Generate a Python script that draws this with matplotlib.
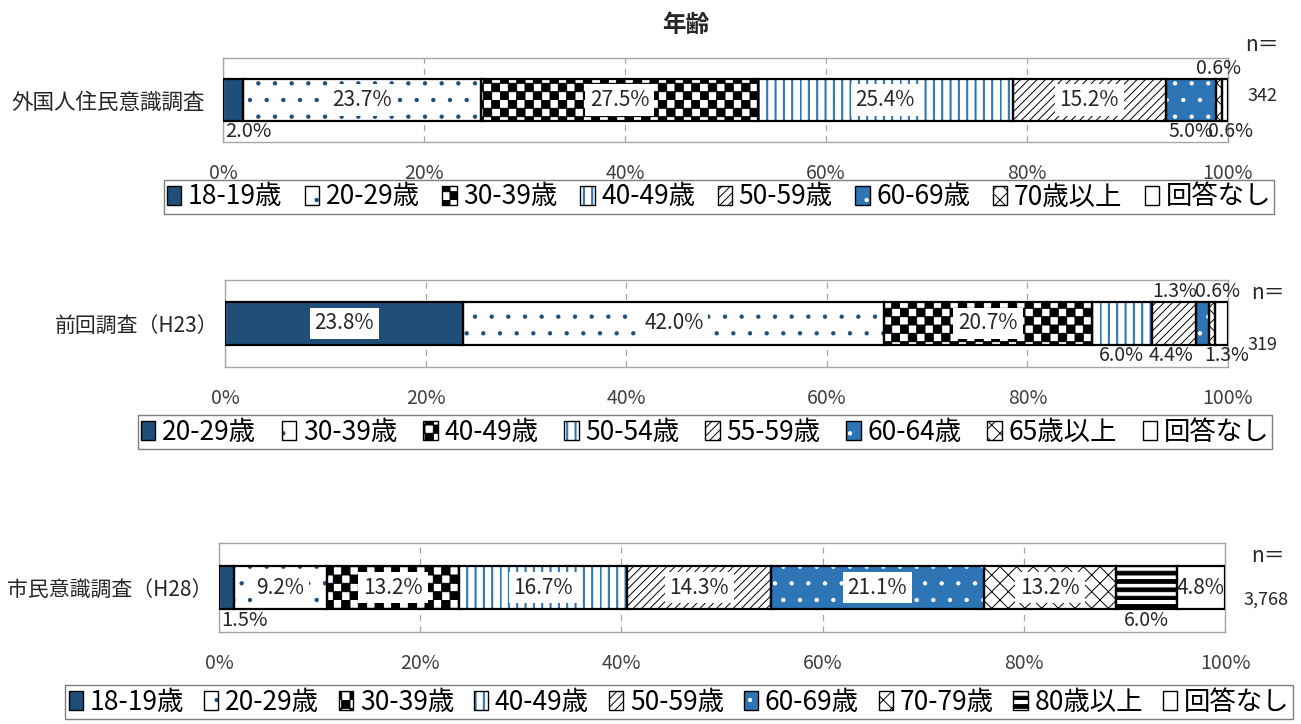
import warnings
import numpy as np
import matplotlib
matplotlib.use('Agg')
import matplotlib.pyplot as plt
import matplotlib.hatch as mhatch
from matplotlib.path import Path
from matplotlib.patches import Patch
from matplotlib.legend_handler import HandlerTuple

warnings.filterwarnings('ignore')
plt.rcParams['font.family'] = ['Noto Sans CJK JP', 'DejaVu Sans']
plt.rcParams['hatch.linewidth'] = 0.7

# ---- data ----
title = '年齢'
survey_names = ['外国人住民意識調査', '前回調査（H23）', '市民意識調査（H28）']
sample_sizes = ['342', '319', '3,768']

groups_foreign = ['18-19歳', '20-29歳', '30-39歳', '40-49歳', '50-59歳',
                  '60-69歳', '70歳以上', '回答なし']
values_foreign = [2.0, 23.7, 27.5, 25.4, 15.2, 5.0, 0.6, 0.6]

groups_h23 = ['20-29歳', '30-39歳', '40-49歳', '50-54歳', '55-59歳',
              '60-64歳', '65歳以上', '回答なし']
values_h23 = [23.8, 42.0, 20.7, 6.0, 4.4, 1.3, 0.6, 1.3]

groups_h28 = ['18-19歳', '20-29歳', '30-39歳', '40-49歳', '50-59歳',
              '60-69歳', '70-79歳', '80歳以上', '回答なし']
values_h28 = [1.5, 9.2, 13.2, 16.7, 14.3, 21.1, 13.2, 6.0, 4.8]

tick_values = [0, 20, 40, 60, 80, 100]


# extra hatch types: 'k' checkerboard, 'h' thick horizontal stripes,
# 'v' medium vertical lines
class BlockHatch(mhatch.HatchPatternBase):
    def __init__(self, hatch, density):
        self.rects = []
        nk = hatch.count('k') * density
        if nk:
            nk += nk % 2
            for i in range(nk):
                for j in range(nk):
                    if (i + j) % 2 == 0:
                        self.rects.append((i / nk, j / nk, 1 / nk, 1 / nk))
        nh = hatch.count('h') * density
        for j in range(nh):
            self.rects.append((0, j / nh, 1, 0.45 / nh))
        nv = hatch.count('v') * density
        for j in range(nv):
            self.rects.append((j / nv, 0, 0.13 / nv, 1))
        self.num_vertices = 5 * len(self.rects)

    def set_vertices_and_codes(self, vertices, codes):
        for n, (x, y, w, h) in enumerate(self.rects):
            vertices[5 * n:5 * n + 5] = [(x, y), (x + w, y), (x + w, y + h),
                                         (x, y + h), (x, y)]
            codes[5 * n:5 * n + 5] = [Path.MOVETO, Path.LINETO, Path.LINETO,
                                      Path.LINETO, Path.CLOSEPOLY]


mhatch._hatch_types.append(BlockHatch)

NAVY = '#1F4E79'
BLUE = '#2E75B6'
# (face, hatch colour, hatch)
styles = {
    'navy': (NAVY, NAVY, None),
    'dots': ('white', NAVY, '.'),
    'check': ('white', 'black', 'kk'),
    'vline': ('white', BLUE, 'vv'),
    'diag': ('white', 'black', '////'),
    'bdots': (BLUE, 'white', '.'),
    'cross': ('white', 'black', 'xx'),
    'stripe': ('white', 'black', 'hh'),
    'none': ('white', 'white', None),
}

panels = [
    dict(values=values_foreign, groups=groups_foreign,
         styles=['navy', 'dots', 'check', 'vline', 'diag', 'bdots', 'cross', 'none'],
         labels=[('bl', 0), ('in', 0), ('in', 0), ('in', 0), ('in', 0),
                 ('below', 0), ('above', 0), ('below', 4)],
         box=(223, 58, 1228, 142), leg=(719, 197), n_pos=((1262, 45), (1262, 96)),
         ypad=13, ylab=15.5, colsp=0.85),
    dict(values=values_h23, groups=groups_h23,
         styles=['navy', 'dots', 'check', 'vline', 'diag', 'bdots', 'cross', 'none'],
         labels=[('in', 0), ('in', 0), ('in', 0), ('below', 0), ('below', -2),
                 ('above', -20), ('above', 4), ('below', 4)],
         box=(225, 280, 1228, 367), leg=(705, 432), n_pos=((1268, 293), (1262, 345)),
         ypad=5, ylab=15, colsp=0.98),
    dict(values=values_h28, groups=groups_h28,
         styles=['navy', 'dots', 'check', 'vline', 'diag', 'bdots', 'cross', 'stripe', 'none'],
         labels=[('bl', 0), ('in', 0), ('in', 0), ('in', 0), ('in', 0), ('in', 0),
                 ('in', 0), ('below', 0), ('plain', 0)],
         box=(219, 543, 1225, 632), leg=(679, 702), n_pos=((1268, 556), (1266, 600)),
         ypad=5, ylab=15, colsp=0.75),
]

W, H = 1301, 724
fig = plt.figure(figsize=(W / 100, H / 100), dpi=100)
fig.text(686 / W, 1 - 25 / H, title, ha='center', va='center',
         fontsize=17, fontweight='bold', color='#262626')

for k, p in enumerate(panels):
    x0, y0, x1, y1 = p['box']
    ax = fig.add_axes([x0 / W, 1 - y1 / H, (x1 - x0) / W, (y1 - y0) / H])
    vals = np.array(p['values'])
    shares = vals / vals.sum() * 100
    lefts = np.concatenate([[0], np.cumsum(shares)[:-1]])
    bh = 0.49
    handles = []
    for i, (v, s, l) in enumerate(zip(vals, shares, lefts)):
        fc, hc, hatch = styles[p['styles'][i]]
        ax.barh([0], [s], left=[l], height=bh, color=fc, edgecolor=hc,
                hatch=hatch, linewidth=0, zorder=2)
        ax.barh([0], [s], left=[l], height=bh, fill=False, edgecolor='black',
                linewidth=1.6, zorder=3)
        handles.append((Patch(facecolor=fc, edgecolor=hc, hatch=hatch, linewidth=0),
                        Patch(facecolor='none', edgecolor='black', linewidth=1)))

        mode, dx = p['labels'][i]
        txt = f'{v:.1f}%'
        cx = l + s / 2
        if mode == 'in':
            ax.text(cx, 0, txt, ha='center', va='center', fontsize=15, zorder=5,
                    color='#262626',
                    bbox=dict(facecolor='white', edgecolor='none', pad=3.5))
        elif mode == 'plain':
            ax.text(cx, 0, txt, ha='center', va='center', fontsize=15, zorder=5,
                    color='#262626')
        elif mode == 'bl':
            ax.text(0.2, -0.37, txt, ha='left', va='center', fontsize=14.5,
                    color='#262626')
        else:
            yy = 0.37 if mode == 'above' else -0.37
            ax.annotate(txt, (cx, yy), xytext=(dx, 0), textcoords='offset points',
                        ha='center', va='center', fontsize=14, color='#262626',
                        annotation_clip=False)

    ax.set_xlim(0, 100)
    ax.set_ylim(-0.5, 0.5)
    ax.set_xticks(tick_values)
    ax.set_xticklabels([f'{t}%' for t in tick_values], fontsize=14, color='#404040')
    ax.set_yticks([0])
    ax.set_yticklabels([survey_names[k]], fontsize=p['ylab'], color='#262626')
    ax.tick_params(axis='both', length=0)
    ax.tick_params(axis='x', pad=15)
    ax.tick_params(axis='y', pad=p['ypad'])
    ax.grid(axis='x', color='#A6A6A6', linestyle=(0, (5, 4)), linewidth=0.9)
    ax.set_axisbelow(True)
    for sp in ax.spines.values():
        sp.set_color('#A6A6A6')
        sp.set_linewidth(1)

    (nx, ny), (sx, sy) = p['n_pos']
    fig.text(nx / W, 1 - ny / H, 'n＝', ha='center', va='center', fontsize=15,
             color='#262626')
    fig.text(sx / W, 1 - sy / H, sample_sizes[k], ha='center', va='center',
             fontsize=13, color='#262626')

    lx, ly = p['leg']
    leg = fig.legend(handles, p['groups'], loc='center',
                     bbox_to_anchor=(lx / W, 1 - ly / H), ncol=len(p['groups']),
                     fontsize=19, frameon=True, fancybox=False, framealpha=1,
                     edgecolor='#7F7F7F', handlelength=0.55, handleheight=0.7,
                     handletextpad=0.25, columnspacing=p['colsp'], borderpad=0.12,
                     borderaxespad=0,
                     handler_map={tuple: HandlerTuple(ndivide=1, pad=0)})
    leg.get_frame().set_linewidth(1)

fig.savefig('out.png', dpi=100)
